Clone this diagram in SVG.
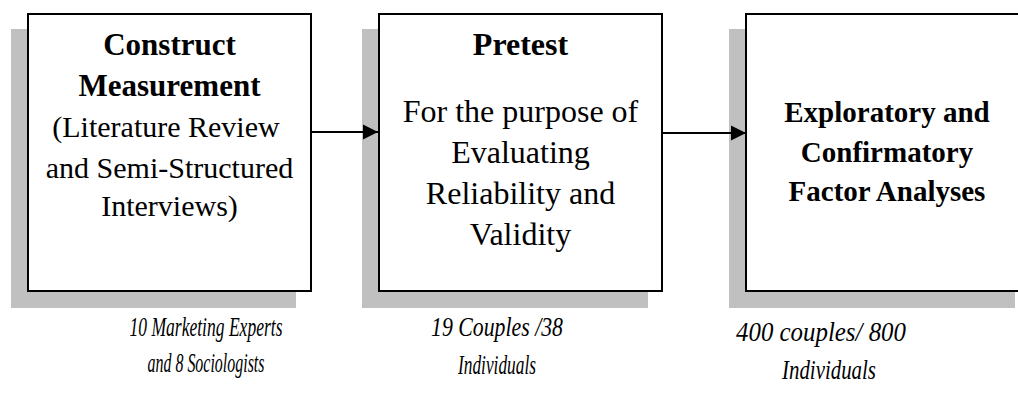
<svg xmlns="http://www.w3.org/2000/svg" width="1018" height="405" viewBox="0 0 1018 405">
<defs>
<style>
.sh{fill:#c0c0c0;stroke:none}
.bx{fill:#fff;stroke:#000;stroke-width:2}
.t{font-family:"Liberation Serif","Times New Roman",serif;font-size:30px;fill:#000;text-anchor:middle}
.b{font-weight:bold}
.c{font-family:"Liberation Serif","Times New Roman",serif;font-size:28px;font-style:italic;fill:#000;text-anchor:middle}
.ln{stroke:#000;stroke-width:2;fill:none}
</style>
<marker id="ah" markerUnits="userSpaceOnUse" markerWidth="16" markerHeight="16" viewBox="0 0 16 16" refX="15" refY="8" orient="auto">
<path d="M0,0.5 L15,8 L0,15.5 Z" fill="#000"/>
</marker>
</defs>
<rect width="1018" height="405" fill="#fff"/>
<g id="node1">
<rect class="sh" x="11" y="29" width="285" height="279"/>
<rect class="bx" x="28" y="14" width="283" height="277"/>
<text class="t b" x="169.5" y="55" style="font-size:31px">Construct</text>
<text class="t b" x="169.5" y="96" style="font-size:31px">Measurement</text>
<text class="t" x="166" y="137">(Literature Review</text>
<text class="t" x="169.5" y="178">and Semi-Structured</text>
<text class="t" x="169.5" y="216">Interviews)</text>
</g>
<g id="node2">
<rect class="sh" x="362" y="29" width="286" height="279"/>
<rect class="bx" x="379" y="14" width="283" height="277"/>
<text class="t b" x="520.5" y="55" style="font-size:32px">Pretest</text>
<text class="t" x="520.5" y="122" style="font-size:32px">For the purpose of</text>
<text class="t" x="520.5" y="163" style="font-size:32px">Evaluating</text>
<text class="t" x="520.5" y="204" style="font-size:32px">Reliability and</text>
<text class="t" x="520.5" y="245" style="font-size:32px">Validity</text>
</g>
<g id="node3">
<rect class="sh" x="729" y="29" width="286" height="279"/>
<rect class="bx" x="746" y="14" width="283" height="277"/>
<text class="t b" x="887" y="122" style="font-size:29px">Exploratory and</text>
<text class="t b" x="887" y="162" style="font-size:29px">Confirmatory</text>
<text class="t b" x="887" y="201" style="font-size:29px">Factor Analyses</text>
</g>
<g id="connectors">
<line class="ln" x1="311" y1="132" x2="378" y2="132" marker-end="url(#ah)"/>
<line class="ln" x1="662" y1="133" x2="746" y2="133" marker-end="url(#ah)"/>
</g>
<g id="captions">
<text class="c" x="206" y="336" textLength="153" lengthAdjust="spacingAndGlyphs">10 Marketing Experts</text>
<text class="c" x="206" y="372" textLength="117" lengthAdjust="spacingAndGlyphs">and 8 Sociologists</text>
<text class="c" x="497" y="336" textLength="132" lengthAdjust="spacingAndGlyphs">19 Couples /38</text>
<text class="c" x="497" y="374" textLength="78" lengthAdjust="spacingAndGlyphs">Individuals</text>
<text class="c" x="821" y="341" textLength="170" lengthAdjust="spacingAndGlyphs">400 couples/ 800</text>
<text class="c" x="829" y="379" textLength="94" lengthAdjust="spacingAndGlyphs">Individuals</text>
</g>
</svg>
